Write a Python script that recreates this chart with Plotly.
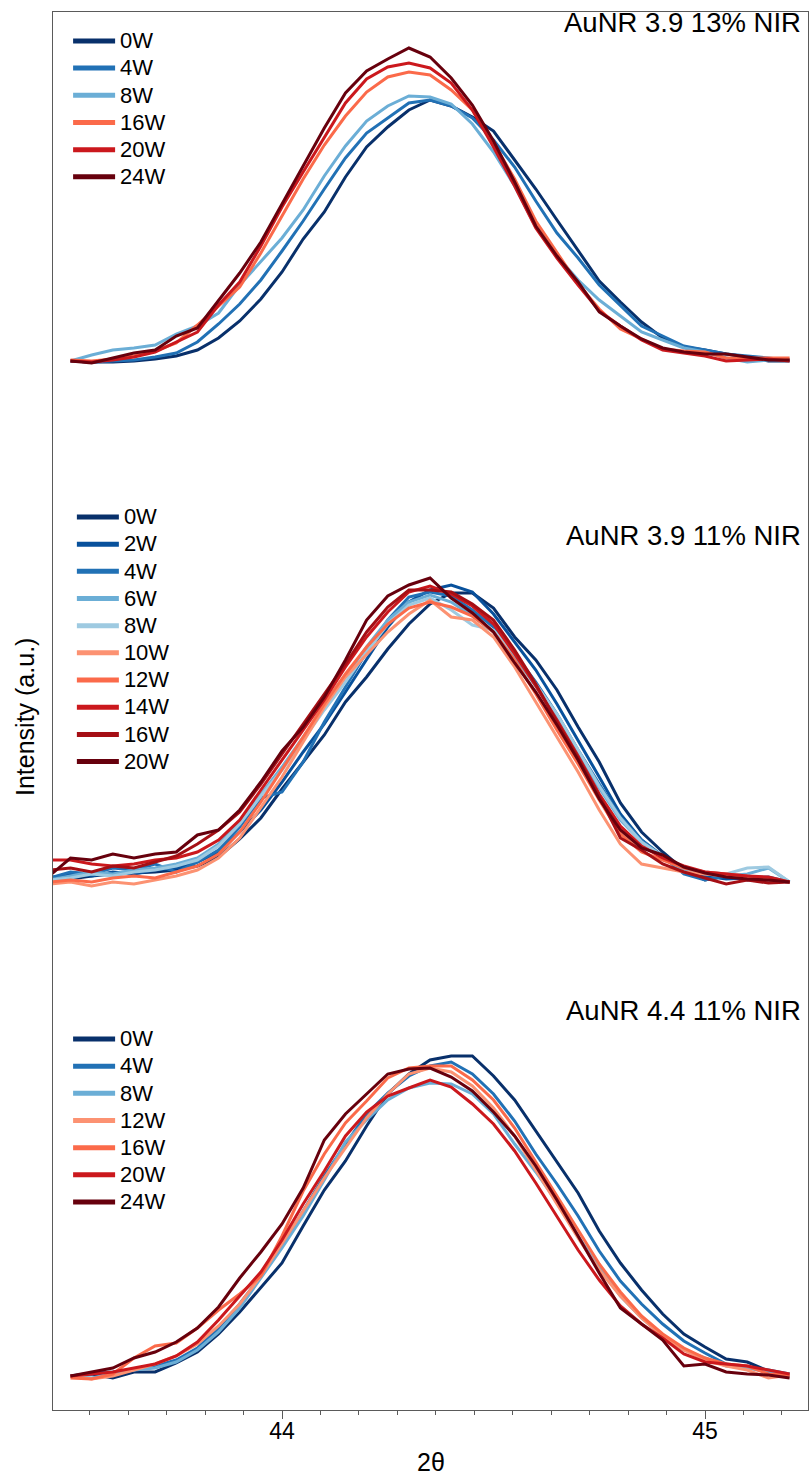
import plotly.graph_objects as go

# 2θ sampling of each diffractogram (degrees)
two_theta_top = [43.50, 43.55, 43.60, 43.65, 43.70, 43.75, 43.80, 43.85, 43.90, 43.95,
                 44.00, 44.05, 44.10, 44.15, 44.20, 44.25, 44.30, 44.35, 44.40, 44.45,
                 44.50, 44.55, 44.60, 44.65, 44.70, 44.75, 44.80, 44.85, 44.90, 44.95,
                 45.00, 45.05, 45.10, 45.15, 45.20]
two_theta_mid = [43.45, 43.50, 43.55, 43.60, 43.65, 43.70, 43.75, 43.80, 43.85, 43.90,
                 43.95, 44.00, 44.05, 44.10, 44.15, 44.20, 44.25, 44.30, 44.35, 44.40,
                 44.45, 44.50, 44.55, 44.60, 44.65, 44.70, 44.75, 44.80, 44.85, 44.90,
                 44.95, 45.00, 45.05, 45.10, 45.15, 45.20]
two_theta_bot = [43.50, 43.55, 43.60, 43.65, 43.70, 43.75, 43.80, 43.85, 43.90, 43.95,
                 44.00, 44.05, 44.10, 44.15, 44.20, 44.25, 44.30, 44.35, 44.40, 44.45,
                 44.50, 44.55, 44.60, 44.65, 44.70, 44.75, 44.80, 44.85, 44.90, 44.95,
                 45.00, 45.05, 45.10, 45.15, 45.20]

# AuNR 3.9, 13% NIR (background-subtracted intensity, a.u.)
top_labels = ["0W", "4W", "8W", "16W", "20W", "24W"]
top_0W = [1, 0, 0, 1, 3, 6, 12, 24, 41, 63, 90, 123, 150, 185, 215, 235, 252, 262, 256, 245,
          231, 202, 173, 142, 112, 81, 60, 40, 24, 15, 12, 8, 5, 1, 1]
top_4W = [1, 0, 1, 2, 5, 9, 20, 38, 58, 82, 111, 141, 173, 204, 229, 244, 259, 262, 256, 244,
          222, 195, 161, 129, 104, 77, 57, 36, 26, 16, 12, 8, 6, 4, 2]
top_8W = [1, 7, 12, 14, 17, 28, 36, 49, 77, 100, 124, 152, 186, 216, 241, 256, 266, 265, 258, 238,
          210, 176, 135, 106, 82, 62, 46, 30, 22, 14, 10, 4, 0, 2, 2]
top_16W = [2, 1, 3, 6, 11, 19, 37, 56, 75, 109, 146, 183, 217, 246, 270, 285, 290, 287, 272, 252,
           219, 183, 141, 109, 78, 53, 33, 23, 13, 11, 10, 4, 4, 4, 4]
top_20W = [1, 0, 2, 5, 10, 20, 30, 57, 80, 116, 155, 190, 224, 259, 283, 295, 299, 294, 279, 252,
           215, 176, 134, 104, 77, 51, 36, 22, 12, 9, 6, 1, 2, 3, 1]
top_24W = [1, -1, 4, 9, 12, 26, 34, 62, 89, 120, 158, 195, 234, 269, 291, 303, 314, 305, 284, 257,
           221, 180, 136, 106, 80, 50, 36, 23, 14, 10, 8, 8, 5, 2, 2]
top_colors = ["#08306b", "#2171b5", "#6baed6", "#fb6a4a", "#cb181d", "#67000d"]

# AuNR 3.9, 11% NIR
mid_labels = ["0W", "2W", "4W", "6W", "8W", "10W", "12W", "14W", "16W", "20W"]
mid_0W = [5, 3, 6, 8, 9, 10, 12, 16, 25, 43, 64, 93, 120, 147, 180, 205, 233, 258, 278, 289,
          289, 274, 245, 222, 192, 155, 120, 79, 50, 30, 12, 2, 6, 2, 2, 0]
mid_2W = [4, 8, 6, 10, 8, 12, 14, 20, 30, 50, 72, 100, 130, 158, 190, 222, 255, 280, 292, 297,
          290, 268, 240, 212, 178, 142, 105, 68, 42, 25, 10, 6, 3, 4, 2, 0]
mid_4W = [4, 10, 8, 14, 12, 18, 10, 20, 32, 55, 84, 90, 120, 160, 195, 230, 262, 285, 290, 286,
          272, 255, 228, 200, 168, 132, 98, 65, 42, 26, 8, 2, 6, 4, 5, 0]
mid_6W = [2, 6, 10, 8, 12, 14, 18, 24, 38, 60, 88, 115, 145, 175, 205, 235, 262, 280, 287, 280,
          266, 250, 225, 196, 165, 128, 94, 62, 40, 24, 12, 8, 6, 8, 14, 0]
mid_8W = [2, 4, 8, 6, 10, 12, 16, 22, 36, 58, 86, 112, 142, 172, 200, 230, 258, 277, 284, 272,
          257, 252, 228, 198, 168, 132, 96, 64, 40, 26, 14, 10, 8, 14, 15, 0]
mid_10W = [-2, 0, -4, 0, -2, 2, 6, 12, 24, 44, 75, 105, 140, 175, 205, 228, 250, 268, 282, 265,
           262, 245, 215, 180, 145, 110, 72, 38, 18, 14, 10, 8, 6, 4, 2, 0]
mid_12W = [0, 2, 0, 4, 6, 4, 10, 16, 28, 50, 80, 112, 145, 178, 208, 235, 258, 274, 280, 275,
           266, 250, 222, 188, 152, 118, 82, 48, 30, 22, 14, 10, 8, 6, 3, 0]
mid_14W = [22, 22, 18, 16, 18, 22, 24, 30, 42, 62, 92, 122, 152, 182, 215, 245, 270, 290, 296, 288,
           276, 258, 228, 196, 162, 126, 88, 56, 36, 24, 16, 10, 8, 6, 5, 0]
mid_16W = [12, 14, 10, 16, 14, 20, 26, 38, 52, 70, 98, 128, 158, 188, 218, 250, 275, 292, 292, 290,
           278, 262, 232, 198, 160, 124, 86, 44, 32, 18, 10, 4, -2, 2, -1, 0]
mid_20W = [6, 24, 22, 28, 24, 28, 30, 47, 52, 72, 100, 131, 155, 185, 222, 262, 286, 297, 304, 284,
           269, 250, 219, 190, 157, 122, 83, 52, 34, 27, 15, 9, 5, 3, 2, 0]
mid_colors = ["#08306b", "#08519c", "#2171b5", "#6baed6", "#9ecae1",
              "#fc9272", "#fb6a4a", "#cb181d", "#a50f15", "#67000d"]

# AuNR 4.4, 11% NIR
bot_labels = ["0W", "4W", "8W", "12W", "16W", "20W", "24W"]
bot_0W = [0, 2, -2, 4, 4, 13, 24, 42, 64, 88, 113, 150, 186, 215, 250, 282, 302, 316, 320, 320,
          300, 276, 245, 213, 183, 145, 113, 86, 62, 42, 29, 17, 14, 5, 1]
bot_4W = [0, 3, 4, 6, 10, 16, 28, 48, 72, 100, 130, 165, 200, 232, 262, 283, 300, 310, 314, 302,
          282, 255, 222, 192, 160, 125, 95, 72, 52, 35, 23, 12, 8, 6, 2]
bot_8W = [0, -2, 2, 6, 8, 14, 26, 44, 68, 98, 128, 160, 196, 234, 256, 276, 288, 293, 292, 282,
          262, 232, 204, 174, 140, 108, 80, 58, 40, 26, 18, 10, 8, 4, 2]
bot_12W = [0, -3, 0, 6, 12, 20, 32, 50, 72, 100, 132, 165, 198, 228, 258, 282, 302, 308, 304, 290,
           268, 240, 206, 172, 138, 106, 80, 58, 40, 26, 16, 10, 6, -2, 1]
bot_16W = [-2, -3, 2, 18, 30, 33, 48, 66, 82, 100, 140, 185, 222, 253, 275, 298, 308, 310, 310, 296,
           276, 248, 214, 180, 146, 112, 84, 60, 42, 28, 18, 12, 10, 2, 1]
bot_20W = [0, 2, 4, 8, 12, 20, 34, 56, 80, 104, 136, 172, 205, 240, 264, 280, 288, 296, 289, 272,
           252, 225, 193, 160, 126, 96, 70, 52, 38, 22, 14, 12, 10, 6, 2]
bot_24W = [0, 4, 8, 18, 24, 34, 48, 69, 98, 124, 152, 188, 236, 262, 282, 302, 307, 308, 299, 285,
           264, 240, 210, 176, 140, 103, 68, 52, 36, 10, 12, 4, 2, 1, -2]
bot_colors = ["#08306b", "#2171b5", "#6baed6", "#fc9272", "#fb6a4a", "#cb181d", "#67000d"]

panel_titles = ["AuNR 3.9 13% NIR", "AuNR 3.9 11% NIR", "AuNR 4.4 11% NIR"]

# vertical offset used to stack the three sample sets
stack_offsets = [1014, 494, 0]

panels = [
    (two_theta_top, top_labels, [top_0W, top_4W, top_8W, top_16W, top_20W, top_24W], top_colors, "legend"),
    (two_theta_mid, mid_labels, [mid_0W, mid_2W, mid_4W, mid_6W, mid_8W, mid_10W, mid_12W, mid_14W,
                                 mid_16W, mid_20W], mid_colors, "legend2"),
    (two_theta_bot, bot_labels, [bot_0W, bot_4W, bot_8W, bot_12W, bot_16W, bot_20W, bot_24W], bot_colors, "legend3"),
]

FONT = 'Arial, "Liberation Sans", sans-serif'
AXIS = "#5a5a5a"
LEGEND_TEXT = "<span style='font-size:22px'>{}</span>"

fig = go.Figure()
for (x, labels, series, colors, legend_id), offset in zip(panels, stack_offsets):
    for label, y, color in zip(labels, series, colors):
        fig.add_trace(go.Scatter(
            x=x, y=[v + offset for v in y], mode="lines", name=label,
            line=dict(color=color, width=3), showlegend=False,
        ))
    # legend entries drawn with a heavier stroke than the curves
    for label, color in zip(labels, colors):
        fig.add_trace(go.Scatter(
            x=[None], y=[None], mode="lines", name=LEGEND_TEXT.format(label),
            line=dict(color=color, width=5), legend=legend_id, hoverinfo="skip",
        ))

legend_style = dict(xanchor="left", yanchor="top", bgcolor="rgba(0,0,0,0)",
                    font=dict(family=FONT, size=18.6, color="black"), itemwidth=42)

fig.update_layout(
    width=811, height=1479,
    margin=dict(l=53, r=3, t=12, b=69),
    plot_bgcolor="white", paper_bgcolor="white",
    font=dict(family=FONT, color="black"),
    legend=dict(x=0.02, y=0.9926, **legend_style),
    legend2=dict(x=0.025, y=0.6521, **legend_style),
    legend3=dict(x=0.02, y=0.2787, **legend_style),
    xaxis=dict(
        range=[43.4586, 45.2435], tickvals=[44, 45], ticktext=["44", "45"],
        ticks="outside", ticklen=8, tickwidth=1.3, tickcolor=AXIS,
        tickfont=dict(family=FONT, size=23, color="black"), ticklabelstandoff=-8,
        showline=True, linecolor=AXIS, linewidth=1.3, mirror=True,
        showgrid=False, zeroline=False,
        minor=dict(tick0=44, dtick=1 / 11, ticks="outside", ticklen=4,
                   tickwidth=1.3, tickcolor=AXIS, showgrid=False),
    ),
    yaxis=dict(
        range=[-34, 1364], showticklabels=False, ticks="",
        showline=True, linecolor=AXIS, linewidth=1.3, mirror=True,
        showgrid=False, zeroline=False,
    ),
)

title_y = [0.9928, 0.6252, 0.2861]
for text, ty in zip(panel_titles, title_y):
    fig.add_annotation(text=text, xref="paper", yref="paper", x=0.9934, y=ty,
                       xanchor="right", yanchor="middle", showarrow=False,
                       font=dict(family=FONT, size=27.5, color="black"))

fig.add_annotation(text="Intensity (a.u.)", xref="paper", yref="paper", x=-0.0371, y=0.4957,
                   xanchor="center", yanchor="middle", textangle=-90, showarrow=False,
                   font=dict(family=FONT, size=25, color="black"))
fig.add_annotation(text="2θ", xref="paper", yref="paper", x=0.5, y=-0.0372,
                   xanchor="center", yanchor="middle", showarrow=False,
                   font=dict(family=FONT, size=25, color="black"))

fig.write_html("out.html")
